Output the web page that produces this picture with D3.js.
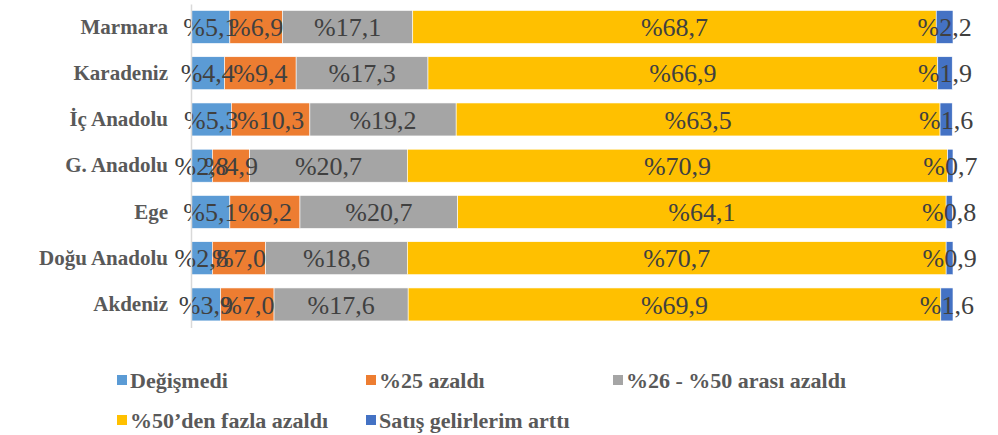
<!DOCTYPE html>
<html>
<head>
<meta charset="utf-8">
<script src="https://cdn.jsdelivr.net/npm/d3@7.9.0/dist/d3.min.js"></script>
<style>
  body { margin: 0; background: #fff; }
  svg { display: block; }
  text { font-family: 'Liberation Serif', 'DejaVu Serif', serif; }
</style>
</head>
<body>
<svg id="chart" width="998" height="435"></svg>
<script>
// regions, top to bottom
const regions = ['Marmara', 'Karadeniz', 'İç Anadolu', 'G. Anadolu', 'Ege', 'Doğu Anadolu', 'Akdeniz'];
const seriesNames = ['Değişmedi', '%25 azaldı', '%26 - %50 arası azaldı', '%50\u2019den fazla azaldı', 'Satış gelirlerim arttı'];
const seriesColors = ['#5B9BD5', '#ED7D31', '#A5A5A5', '#FFC000', '#4472C4'];

// one array per series, in region order
const degismedi   = [5.1, 4.4, 5.3, 2.8, 5.1, 2.8, 3.9];
const azaldi25    = [6.9, 9.4, 10.3, 4.9, 9.2, 7.0, 7.0];
const azaldi26_50 = [17.1, 17.3, 19.2, 20.7, 20.7, 18.6, 17.6];
const azaldi50    = [68.7, 66.9, 63.5, 70.9, 64.1, 70.7, 69.9];
const artti       = [2.2, 1.9, 1.6, 0.7, 0.8, 0.9, 1.6];

const seriesValues = [degismedi, azaldi25, azaldi26_50, azaldi50, artti];
const keys = seriesNames;

const rows = regions.map((r, i) => {
  const o = { region: r };
  keys.forEach((k, j) => { o[k] = seriesValues[j][i]; });
  return o;
});

const svg = d3.select('#chart');

const x = d3.scaleLinear().domain([0, 100]).range([191, 953]);
const y = d3.scaleBand().domain(regions).range([4, 327.4])
  .paddingInner(0.287).paddingOuter(0.14);

const stacked = d3.stack().keys(keys)(rows);
const fmt = v => '%' + d3.format('.1f')(v).replace('.', ',');

// bars first
svg.append('g')
  .selectAll('g')
  .data(stacked)
  .join('g')
  .attr('fill', (d, i) => seriesColors[i])
  .selectAll('rect')
  .data(d => d)
  .join('rect')
  .attr('x', d => x(d[0]))
  .attr('y', d => y(d.data.region))
  .attr('width', d => x(d[1]) - x(d[0]))
  .attr('height', y.bandwidth())
  .attr('stroke', '#fff')
  .attr('stroke-width', 0.6);

// then value labels, centred in each segment
svg.append('g')
  .selectAll('g')
  .data(stacked)
  .join('g')
  .selectAll('text')
  .data(d => d.map(p => ({ p, key: d.key })))
  .join('text')
  .attr('x', d => (x(d.p[0]) + x(d.p[1])) / 2)
  .attr('y', d => y(d.p.data.region) + y.bandwidth() / 2)
  .attr('dy', '0.35em')
  .attr('text-anchor', 'middle')
  .attr('fill', '#404040')
  .style('font-size', '26px')
  .text(d => fmt(d.p.data[d.key]));

// category axis
const axis = svg.append('g')
  .attr('transform', `translate(${x(0)},0)`)
  .call(d3.axisLeft(y).tickSize(0).tickPadding(23).tickSizeOuter(0));
axis.select('.domain').attr('stroke', '#d9d9d9').attr('stroke-width', 1.5);
axis.selectAll('text')
  .attr('fill', '#595959')
  .style('font-family', "'Liberation Serif', 'DejaVu Serif', serif")
  .style('font-weight', 'bold')
  .style('font-size', '21px');

// legend
const legendPos = [[117, 380], [366, 380], [613, 380], [117, 420], [366, 420]];
const legend = svg.append('g')
  .selectAll('g')
  .data(seriesNames)
  .join('g')
  .attr('transform', (d, i) => `translate(${legendPos[i][0]},${legendPos[i][1]})`);

legend.append('rect')
  .attr('x', 0).attr('y', -5)
  .attr('width', 10).attr('height', 10)
  .attr('fill', (d, i) => seriesColors[i]);

legend.append('text')
  .attr('x', 13)
  .attr('dy', '0.35em')
  .attr('fill', '#595959')
  .style('font-weight', 'bold')
  .style('font-size', '22px')
  .text(d => d);
</script>
</body>
</html>
